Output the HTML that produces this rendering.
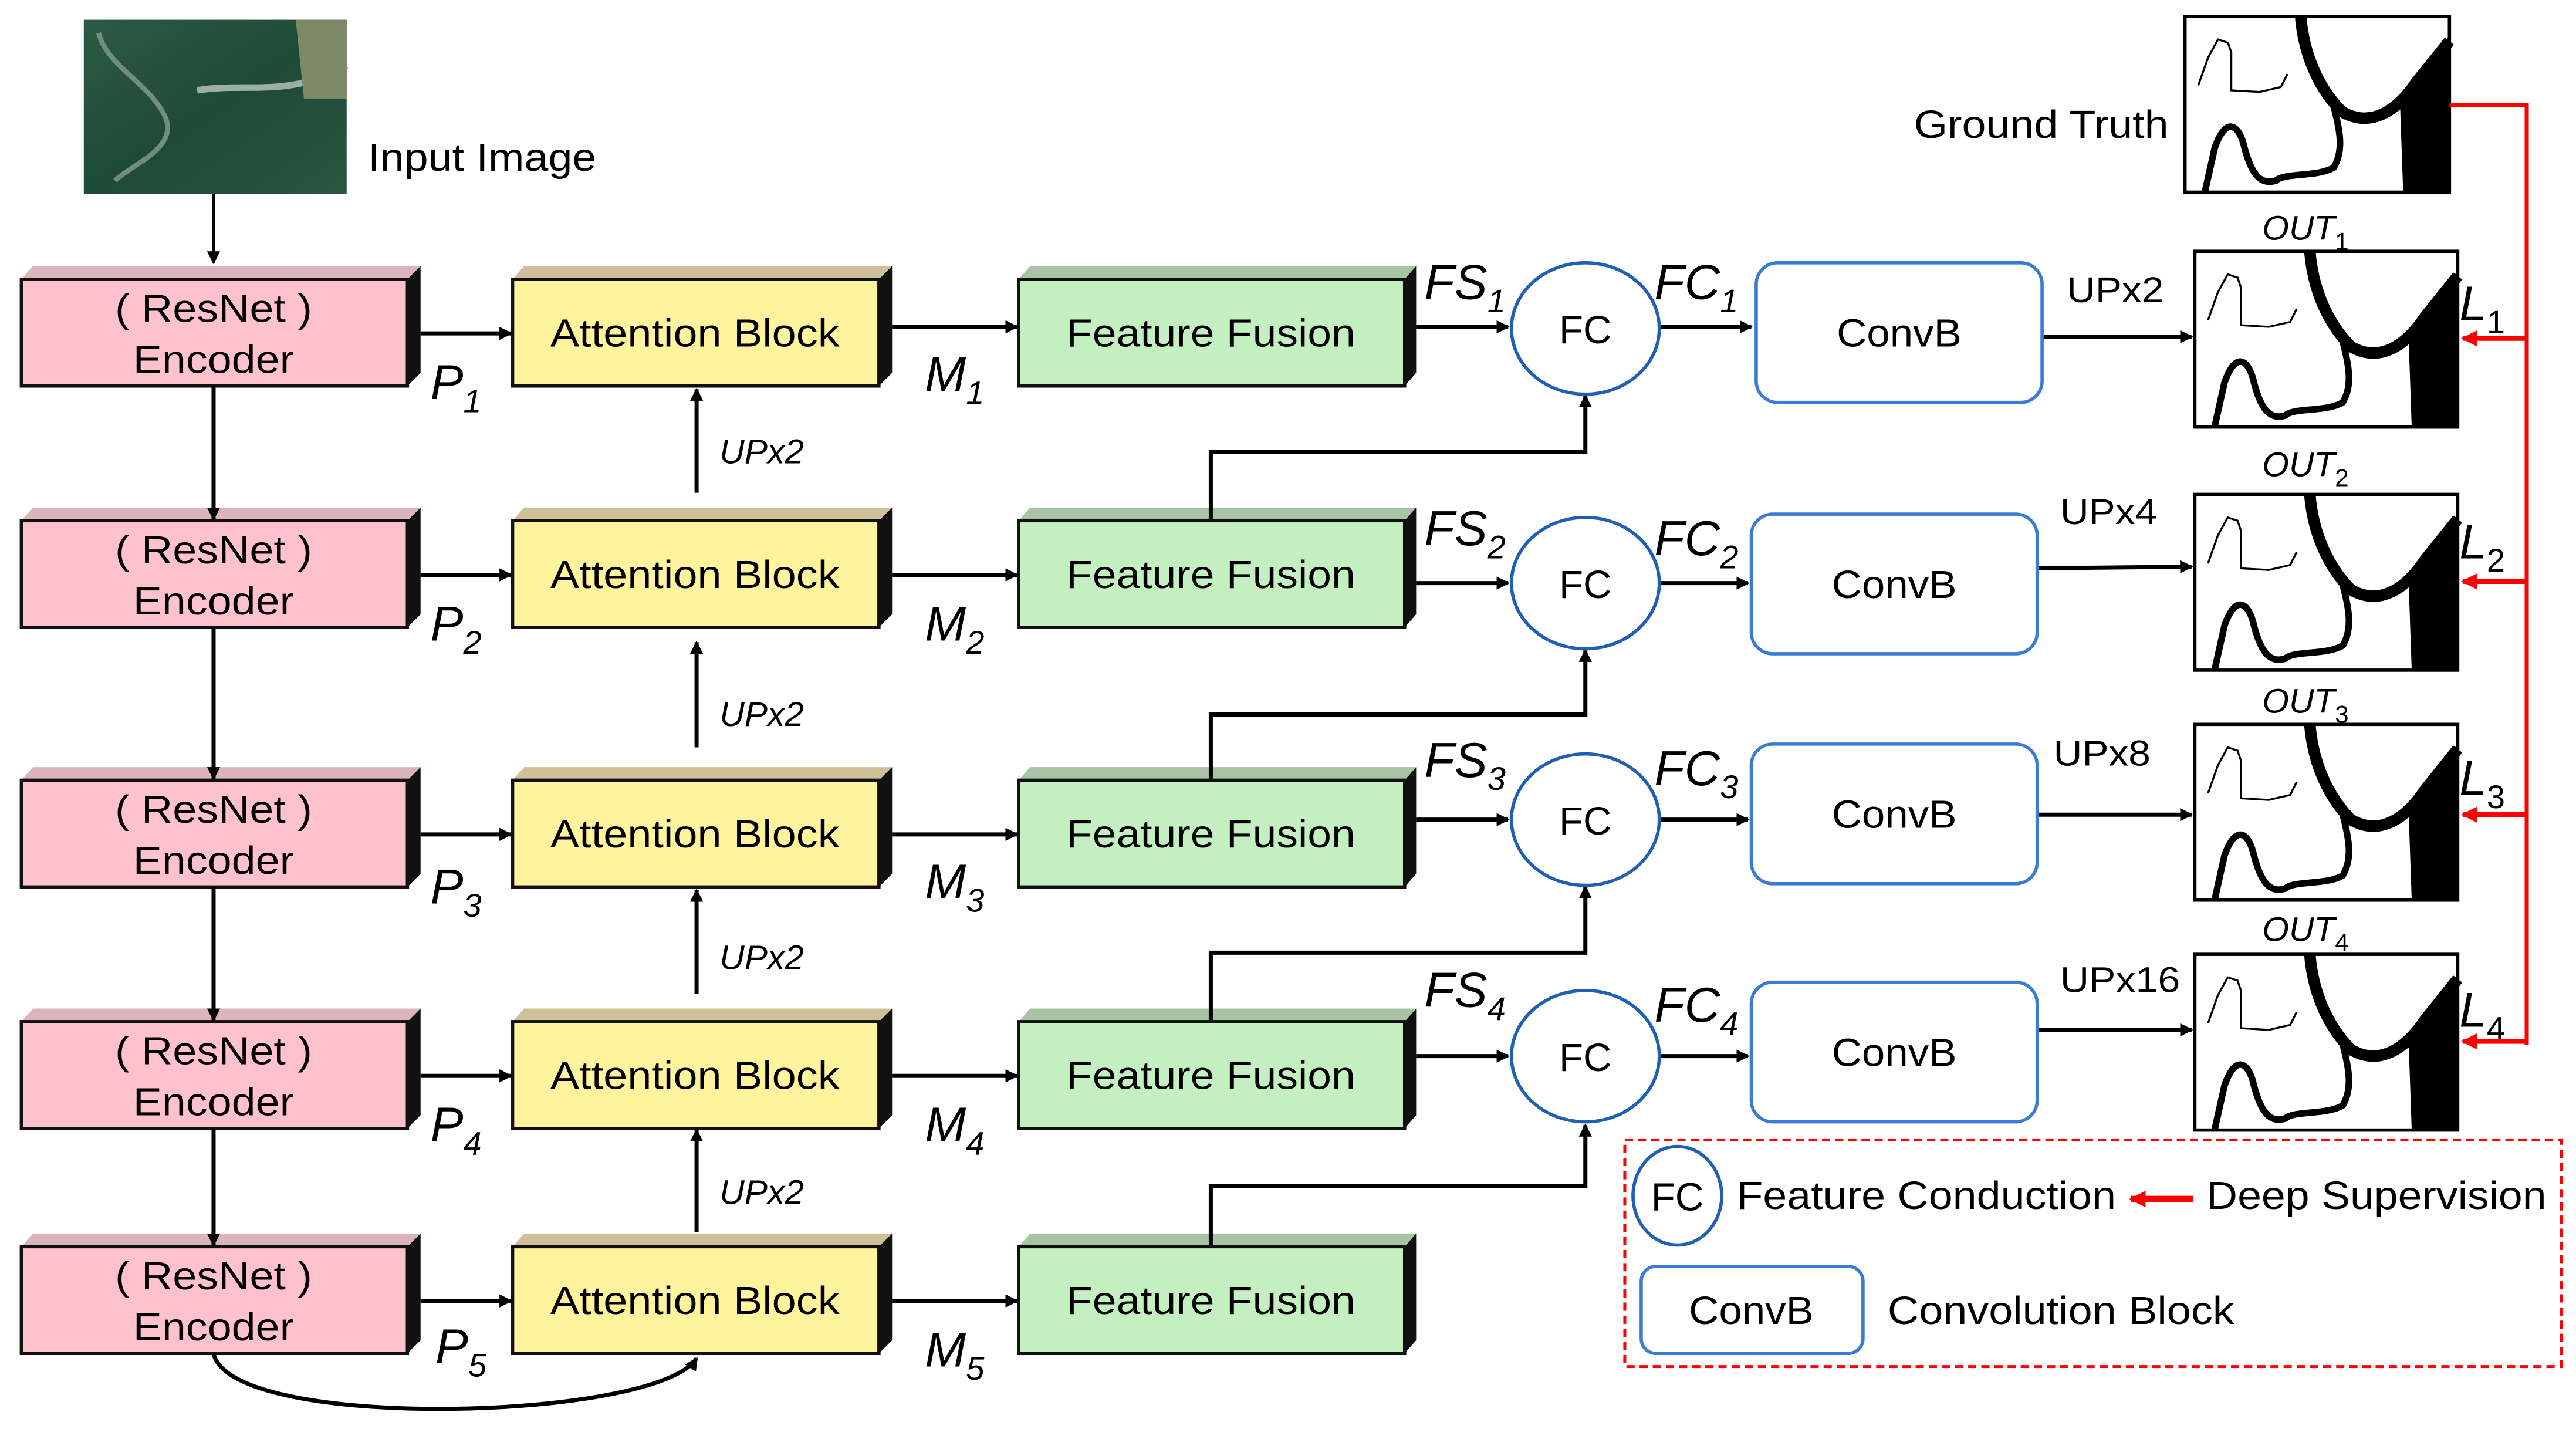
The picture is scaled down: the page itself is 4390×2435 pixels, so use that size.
<!DOCTYPE html>
<html><head><meta charset="utf-8"><style>
html,body{margin:0;padding:0;background:#fff;}
svg{display:block;}
text{font-family:"Liberation Sans",Arial,sans-serif;fill:#000;}
.it{font-style:italic;}
</style></head><body>
<svg width="4390" height="2435" viewBox="0 0 1568 870" preserveAspectRatio="none" xmlns="http://www.w3.org/2000/svg">
<defs>
<marker id="ah" markerWidth="8" markerHeight="8" refX="7" refY="4" orient="auto" markerUnits="userSpaceOnUse"><path d="M0,0 L8,4 L0,8 z" fill="#000"/></marker>
<marker id="ahr" markerWidth="10" markerHeight="10" refX="9" refY="5" orient="auto" markerUnits="userSpaceOnUse"><path d="M0,0 L10,5 L0,10 z" fill="#f00"/></marker>
<g id="mask">
<rect x="0" y="0" width="160" height="107" fill="#fff" stroke="#000" stroke-width="2"/>
<path d="M8,42 L14,25 L20,14 L26,16 L28,22 L28,45 L45,46 L58,43 L62,35" fill="none" stroke="#000" stroke-width="1.2"/>
<path d="M70,0 C72,25 82,45 95,58 C112,68 128,58 140,40 L160,15" fill="none" stroke="#000" stroke-width="7"/>
<path d="M90,55 C94,70 96,82 90,92 C80,98 60,95 55,100 C45,103 40,95 36,80 C33,66 25,60 18,80 L12,107" fill="none" stroke="#000" stroke-width="4"/>
<path d="M132,107 L130,50 L145,30 L160,12 L160,107 z" fill="#000"/>
</g>
<linearGradient id="sat" x1="0" y1="0" x2="1" y2="1"><stop offset="0" stop-color="#2d5a44"/><stop offset="0.5" stop-color="#1e4a38"/><stop offset="1" stop-color="#2a5540"/></linearGradient>
</defs>

<!-- Input image -->
<rect x="51" y="12" width="160" height="106" fill="url(#sat)"/>
<path d="M60,20 C65,40 90,50 100,70 C110,90 80,100 70,110" fill="none" stroke="#6f8f7a" stroke-width="3"/>
<path d="M120,55 C150,50 175,60 211,40" fill="none" stroke="#9bb0a2" stroke-width="4"/>
<path d="M180,12 L211,12 L211,60 L185,60 z" fill="#7c8a6a"/>
<text x="224" y="104" font-size="24" textLength="139" lengthAdjust="spacingAndGlyphs">Input Image</text>
<line x1="130" y1="118" x2="130" y2="160" stroke="#000" stroke-width="2" marker-end="url(#ah)"/>

<g id="rows">
<g font-size="24">
<polygon points="13,170 20,162 256,162 248,170" fill="#dcb4bb"/>
<polygon points="248,170 256,162 256,227 248,235" fill="#111"/>
<rect x="13" y="170" width="235" height="65" fill="#ffc2cc" stroke="#111" stroke-width="2"/>
<text x="130" y="196" text-anchor="middle" textLength="120" lengthAdjust="spacingAndGlyphs">( ResNet )</text>
<text x="130" y="227" text-anchor="middle" textLength="98" lengthAdjust="spacingAndGlyphs">Encoder</text>
<polygon points="13,317 20,309 256,309 248,317" fill="#dcb4bb"/>
<polygon points="248,317 256,309 256,374 248,382" fill="#111"/>
<rect x="13" y="317" width="235" height="65" fill="#ffc2cc" stroke="#111" stroke-width="2"/>
<text x="130" y="343" text-anchor="middle" textLength="120" lengthAdjust="spacingAndGlyphs">( ResNet )</text>
<text x="130" y="374" text-anchor="middle" textLength="98" lengthAdjust="spacingAndGlyphs">Encoder</text>
<polygon points="13,475 20,467 256,467 248,475" fill="#dcb4bb"/>
<polygon points="248,475 256,467 256,532 248,540" fill="#111"/>
<rect x="13" y="475" width="235" height="65" fill="#ffc2cc" stroke="#111" stroke-width="2"/>
<text x="130" y="501" text-anchor="middle" textLength="120" lengthAdjust="spacingAndGlyphs">( ResNet )</text>
<text x="130" y="532" text-anchor="middle" textLength="98" lengthAdjust="spacingAndGlyphs">Encoder</text>
<polygon points="13,622 20,614 256,614 248,622" fill="#dcb4bb"/>
<polygon points="248,622 256,614 256,679 248,687" fill="#111"/>
<rect x="13" y="622" width="235" height="65" fill="#ffc2cc" stroke="#111" stroke-width="2"/>
<text x="130" y="648" text-anchor="middle" textLength="120" lengthAdjust="spacingAndGlyphs">( ResNet )</text>
<text x="130" y="679" text-anchor="middle" textLength="98" lengthAdjust="spacingAndGlyphs">Encoder</text>
<polygon points="13,759 20,751 256,751 248,759" fill="#dcb4bb"/>
<polygon points="248,759 256,751 256,816 248,824" fill="#111"/>
<rect x="13" y="759" width="235" height="65" fill="#ffc2cc" stroke="#111" stroke-width="2"/>
<text x="130" y="785" text-anchor="middle" textLength="120" lengthAdjust="spacingAndGlyphs">( ResNet )</text>
<text x="130" y="816" text-anchor="middle" textLength="98" lengthAdjust="spacingAndGlyphs">Encoder</text>
</g>

<g font-size="24">
<polygon points="312,170 319,162 543,162 535,170" fill="#cfc09a"/><polygon points="535,170 543,162 543,227 535,235" fill="#111"/>
<rect x="312" y="170" width="223" height="65" fill="#fff39e" stroke="#111" stroke-width="2"/>
<text x="423" y="211" text-anchor="middle" textLength="176" lengthAdjust="spacingAndGlyphs">Attention Block</text>
<polygon points="312,317 319,309 543,309 535,317" fill="#cfc09a"/><polygon points="535,317 543,309 543,374 535,382" fill="#111"/>
<rect x="312" y="317" width="223" height="65" fill="#fff39e" stroke="#111" stroke-width="2"/>
<text x="423" y="358" text-anchor="middle" textLength="176" lengthAdjust="spacingAndGlyphs">Attention Block</text>
<polygon points="312,475 319,467 543,467 535,475" fill="#cfc09a"/><polygon points="535,475 543,467 543,532 535,540" fill="#111"/>
<rect x="312" y="475" width="223" height="65" fill="#fff39e" stroke="#111" stroke-width="2"/>
<text x="423" y="516" text-anchor="middle" textLength="176" lengthAdjust="spacingAndGlyphs">Attention Block</text>
<polygon points="312,622 319,614 543,614 535,622" fill="#cfc09a"/><polygon points="535,622 543,614 543,679 535,687" fill="#111"/>
<rect x="312" y="622" width="223" height="65" fill="#fff39e" stroke="#111" stroke-width="2"/>
<text x="423" y="663" text-anchor="middle" textLength="176" lengthAdjust="spacingAndGlyphs">Attention Block</text>
<polygon points="312,759 319,751 543,751 535,759" fill="#cfc09a"/><polygon points="535,759 543,751 543,816 535,824" fill="#111"/>
<rect x="312" y="759" width="223" height="65" fill="#fff39e" stroke="#111" stroke-width="2"/>
<text x="423" y="800" text-anchor="middle" textLength="176" lengthAdjust="spacingAndGlyphs">Attention Block</text>
</g>

<g font-size="24">
<polygon points="620,170 627,162 862,162 855,170" fill="#a9c4a4"/><polygon points="855,170 862,162 862,227 855,235" fill="#111"/>
<rect x="620" y="170" width="235" height="65" fill="#c4efc0" stroke="#111" stroke-width="2"/>
<text x="737" y="211" text-anchor="middle" textLength="176" lengthAdjust="spacingAndGlyphs">Feature Fusion</text>
<polygon points="620,317 627,309 862,309 855,317" fill="#a9c4a4"/><polygon points="855,317 862,309 862,374 855,382" fill="#111"/>
<rect x="620" y="317" width="235" height="65" fill="#c4efc0" stroke="#111" stroke-width="2"/>
<text x="737" y="358" text-anchor="middle" textLength="176" lengthAdjust="spacingAndGlyphs">Feature Fusion</text>
<polygon points="620,475 627,467 862,467 855,475" fill="#a9c4a4"/><polygon points="855,475 862,467 862,532 855,540" fill="#111"/>
<rect x="620" y="475" width="235" height="65" fill="#c4efc0" stroke="#111" stroke-width="2"/>
<text x="737" y="516" text-anchor="middle" textLength="176" lengthAdjust="spacingAndGlyphs">Feature Fusion</text>
<polygon points="620,622 627,614 862,614 855,622" fill="#a9c4a4"/><polygon points="855,622 862,614 862,679 855,687" fill="#111"/>
<rect x="620" y="622" width="235" height="65" fill="#c4efc0" stroke="#111" stroke-width="2"/>
<text x="737" y="663" text-anchor="middle" textLength="176" lengthAdjust="spacingAndGlyphs">Feature Fusion</text>
<polygon points="620,759 627,751 862,751 855,759" fill="#a9c4a4"/><polygon points="855,759 862,751 862,816 855,824" fill="#111"/>
<rect x="620" y="759" width="235" height="65" fill="#c4efc0" stroke="#111" stroke-width="2"/>
<text x="737" y="800" text-anchor="middle" textLength="176" lengthAdjust="spacingAndGlyphs">Feature Fusion</text>
</g>
</g>

<g stroke="#000" stroke-width="2.5" fill="none">
<line x1="130" y1="235" x2="130" y2="316" marker-end="url(#ah)"/>
<line x1="130" y1="382" x2="130" y2="474" marker-end="url(#ah)"/>
<line x1="130" y1="540" x2="130" y2="621" marker-end="url(#ah)"/>
<line x1="130" y1="687" x2="130" y2="758" marker-end="url(#ah)"/>
<line x1="256" y1="203" x2="311" y2="203" marker-end="url(#ah)"/>
<line x1="256" y1="350" x2="311" y2="350" marker-end="url(#ah)"/>
<line x1="256" y1="508" x2="311" y2="508" marker-end="url(#ah)"/>
<line x1="256" y1="655" x2="311" y2="655" marker-end="url(#ah)"/>
<line x1="256" y1="792" x2="311" y2="792" marker-end="url(#ah)"/>
<line x1="543" y1="199" x2="619" y2="199" marker-end="url(#ah)"/>
<line x1="543" y1="350" x2="619" y2="350" marker-end="url(#ah)"/>
<line x1="543" y1="508" x2="619" y2="508" marker-end="url(#ah)"/>
<line x1="543" y1="655" x2="619" y2="655" marker-end="url(#ah)"/>
<line x1="543" y1="792" x2="619" y2="792" marker-end="url(#ah)"/>
<line x1="424" y1="300" x2="424" y2="237" marker-end="url(#ah)"/>
<line x1="424" y1="455" x2="424" y2="391" marker-end="url(#ah)"/>
<line x1="424" y1="605" x2="424" y2="542" marker-end="url(#ah)"/>
<line x1="424" y1="750" x2="424" y2="688" marker-end="url(#ah)"/>
<path d="M130,824 C140,872 400,865 424,827" marker-end="url(#ah)"/>
<line x1="862" y1="199" x2="918" y2="199" marker-end="url(#ah)"/>
<line x1="862" y1="355" x2="918" y2="355" marker-end="url(#ah)"/>
<line x1="862" y1="499" x2="918" y2="499" marker-end="url(#ah)"/>
<line x1="862" y1="643" x2="918" y2="643" marker-end="url(#ah)"/>
<path d="M737,316 V275 H965 V241" marker-end="url(#ah)"/>
<path d="M737,474 V435 H965 V396" marker-end="url(#ah)"/>
<path d="M737,621 V580 H965 V540" marker-end="url(#ah)"/>
<path d="M737,758 V722 H965 V685" marker-end="url(#ah)"/>
<line x1="1011" y1="199" x2="1066" y2="199" marker-end="url(#ah)"/>
<line x1="1011" y1="355" x2="1064" y2="355" marker-end="url(#ah)"/>
<line x1="1011" y1="499" x2="1064" y2="499" marker-end="url(#ah)"/>
<line x1="1011" y1="643" x2="1064" y2="643" marker-end="url(#ah)"/>
<line x1="1243" y1="205" x2="1334" y2="205" marker-end="url(#ah)"/>
<line x1="1240" y1="346" x2="1334" y2="345" marker-end="url(#ah)"/>
<line x1="1240" y1="496" x2="1334" y2="496" marker-end="url(#ah)"/>
<line x1="1240" y1="627" x2="1334" y2="627" marker-end="url(#ah)"/>
</g>

<g fill="#fff" stroke="#1f5fb4" stroke-width="2">
<ellipse cx="965" cy="200" rx="45" ry="40"/>
<ellipse cx="965" cy="355" rx="45" ry="40"/>
<ellipse cx="965" cy="499" rx="45" ry="40"/>
<ellipse cx="965" cy="643" rx="45" ry="40"/>
</g>
<g font-size="24" text-anchor="middle">
<text x="965" y="209">FC</text><text x="965" y="364">FC</text><text x="965" y="508">FC</text><text x="965" y="652">FC</text>
</g>
<g fill="#fff" stroke="#3a7bd5" stroke-width="2">
<rect x="1069" y="160" width="174" height="85" rx="13"/>
<rect x="1066" y="313" width="174" height="85" rx="13"/>
<rect x="1066" y="453" width="174" height="85" rx="13"/>
<rect x="1066" y="598" width="174" height="85" rx="13"/>
</g>
<g font-size="24" text-anchor="middle">
<text x="1156" y="211" textLength="76" lengthAdjust="spacingAndGlyphs">ConvB</text>
<text x="1153" y="364" textLength="76" lengthAdjust="spacingAndGlyphs">ConvB</text>
<text x="1153" y="504" textLength="76" lengthAdjust="spacingAndGlyphs">ConvB</text>
<text x="1153" y="649" textLength="76" lengthAdjust="spacingAndGlyphs">ConvB</text>
</g>

<g class="it" font-size="30">
<text x="262" y="243">P<tspan font-size="20" dy="8">1</tspan></text>
<text x="262" y="390">P<tspan font-size="20" dy="8">2</tspan></text>
<text x="262" y="550">P<tspan font-size="20" dy="8">3</tspan></text>
<text x="262" y="695">P<tspan font-size="20" dy="8">4</tspan></text>
<text x="265" y="830">P<tspan font-size="20" dy="8">5</tspan></text>
<text x="563" y="238">M<tspan font-size="20" dy="8">1</tspan></text>
<text x="563" y="390">M<tspan font-size="20" dy="8">2</tspan></text>
<text x="563" y="547">M<tspan font-size="20" dy="8">3</tspan></text>
<text x="563" y="695">M<tspan font-size="20" dy="8">4</tspan></text>
<text x="563" y="832">M<tspan font-size="20" dy="8">5</tspan></text>
<text x="867" y="182">FS<tspan font-size="20" dy="8">1</tspan></text>
<text x="867" y="332">FS<tspan font-size="20" dy="8">2</tspan></text>
<text x="867" y="473">FS<tspan font-size="20" dy="8">3</tspan></text>
<text x="867" y="613">FS<tspan font-size="20" dy="8">4</tspan></text>
<text x="1007" y="182">FC<tspan font-size="20" dy="8">1</tspan></text>
<text x="1007" y="338">FC<tspan font-size="20" dy="8">2</tspan></text>
<text x="1007" y="478">FC<tspan font-size="20" dy="8">3</tspan></text>
<text x="1007" y="622">FC<tspan font-size="20" dy="8">4</tspan></text>
<text x="1497" y="195">L<tspan font-size="20" dy="8" font-style="normal">1</tspan></text>
<text x="1497" y="340">L<tspan font-size="20" dy="8" font-style="normal">2</tspan></text>
<text x="1497" y="484">L<tspan font-size="20" dy="8" font-style="normal">3</tspan></text>
<text x="1497" y="625">L<tspan font-size="20" dy="8" font-style="normal">4</tspan></text>
</g>
<g class="it" font-size="21">
<text x="438" y="282">UPx2</text><text x="438" y="442">UPx2</text><text x="438" y="590">UPx2</text><text x="438" y="733">UPx2</text>
<text x="1377" y="146">OUT<tspan font-size="15" dy="6" font-style="normal">1</tspan></text>
<text x="1377" y="290">OUT<tspan font-size="15" dy="6" font-style="normal">2</tspan></text>
<text x="1377" y="434">OUT<tspan font-size="15" dy="6" font-style="normal">3</tspan></text>
<text x="1377" y="573">OUT<tspan font-size="15" dy="6" font-style="normal">4</tspan></text>
</g>
<g font-size="22">
<text x="1258" y="184" textLength="59" lengthAdjust="spacingAndGlyphs">UPx2</text>
<text x="1254" y="319" textLength="59" lengthAdjust="spacingAndGlyphs">UPx4</text>
<text x="1250" y="466" textLength="59" lengthAdjust="spacingAndGlyphs">UPx8</text>
<text x="1254" y="604" textLength="73" lengthAdjust="spacingAndGlyphs">UPx16</text>
<text x="1165" y="84" font-size="24" textLength="155" lengthAdjust="spacingAndGlyphs">Ground Truth</text>
</g>

<use href="#mask" transform="translate(1330,10) scale(1.006,1)"/>
<use href="#mask" transform="translate(1336,153)"/>
<use href="#mask" transform="translate(1336,301)"/>
<use href="#mask" transform="translate(1336,441)"/>
<use href="#mask" transform="translate(1336,581)"/>

<g stroke="#f00" stroke-width="2.5" fill="none">
<path d="M1491,64 H1538 V636"/>
<line x1="1538" y1="206" x2="1499" y2="206" stroke-width="3" marker-end="url(#ahr)"/>
<line x1="1538" y1="354" x2="1499" y2="354" stroke-width="3" marker-end="url(#ahr)"/>
<line x1="1538" y1="496" x2="1499" y2="496" stroke-width="3" marker-end="url(#ahr)"/>
<line x1="1538" y1="634" x2="1499" y2="634" stroke-width="3" marker-end="url(#ahr)"/>
</g>

<rect x="989" y="694" width="570" height="138" fill="none" stroke="#f00" stroke-width="1.8" stroke-dasharray="5,3"/>
<ellipse cx="1021" cy="728" rx="27" ry="30" fill="#fff" stroke="#1f5fb4" stroke-width="2"/>
<text x="1021" y="737" font-size="24" text-anchor="middle">FC</text>
<text x="1057" y="736" font-size="24" textLength="231" lengthAdjust="spacingAndGlyphs">Feature Conduction</text>
<line x1="1335" y1="730" x2="1297" y2="730" stroke="#f00" stroke-width="4" marker-end="url(#ahr)"/>
<text x="1343" y="736" font-size="24" textLength="207" lengthAdjust="spacingAndGlyphs">Deep Supervision</text>
<rect x="999" y="771" width="135" height="53" rx="9" fill="#fff" stroke="#3a7bd5" stroke-width="2"/>
<text x="1066" y="806" font-size="24" text-anchor="middle" textLength="76" lengthAdjust="spacingAndGlyphs">ConvB</text>
<text x="1149" y="806" font-size="24" textLength="211" lengthAdjust="spacingAndGlyphs">Convolution Block</text>
</svg>
</body></html>
